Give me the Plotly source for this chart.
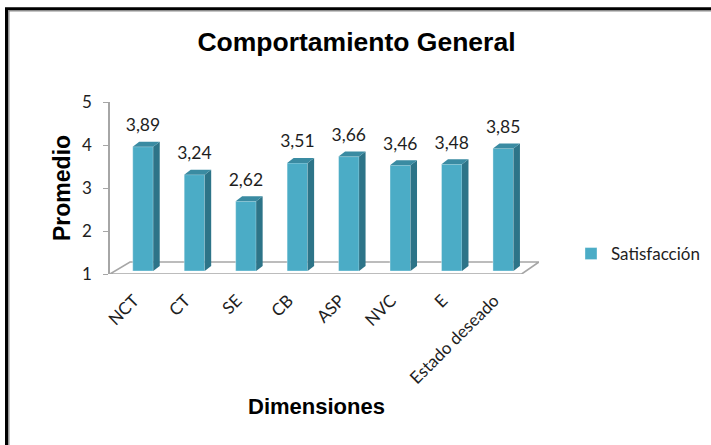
import plotly.graph_objects as go

# ---- data ----
categories = ["NCT", "CT", "SE", "CB", "ASP", "NVC", "E", "Estado deseado"]
values = [3.89, 3.24, 2.62, 3.51, 3.66, 3.46, 3.48, 3.85]
y_ticks = [1, 2, 3, 4, 5]
series_name = "Satisfacción"
title_text = "Comportamiento General"
x_title = "Dimensiones"
y_title = "Promedio"

# ---- geometry / style ----
W, H = 711, 445
PL, PR, PT, PB = 110, 539, 102, 274          # plot area in pixels
x_range = [-0.641, 7.696]
y_range = [1, 5]
px_x = (PR - PL) / (x_range[1] - x_range[0])
px_y = (PB - PT) / (y_range[1] - y_range[0])


def paper_x(px):
    return (px - PL) / (PR - PL)


def paper_y(py):
    return (PB - py) / (PB - PT)


bar_w = 20.5 / px_x
dx = 6.5 / px_x
dy = 5.0 / px_y
lift = 3.0 / px_y
label_gap = 20.0 / px_y

FRONT = "#4BACC6"
SIDE = "#2D7488"
TOP = "#3A8BA2"
AXIS_GRAY = "#A6A6A6"
TXT = "#1E1E1E"

idx = list(range(len(categories)))
labels = [f"{v:.2f}".replace(".", ",") for v in values]

fig = go.Figure()
fig.add_trace(go.Bar(
    x=idx, y=[v - y_range[0] for v in values], base=y_range[0] + lift,
    width=bar_w, name=series_name,
    marker=dict(color=FRONT, line=dict(color="rgba(255,255,255,0.6)", width=0.6)),
    hoverinfo="skip",
))
fig.add_trace(go.Scatter(
    x=idx, y=[v + lift + label_gap for v in values], mode="text",
    text=labels, textposition="middle center",
    textfont=dict(family="Lato", size=17.5, color=TXT),
    showlegend=False, cliponaxis=False, hoverinfo="skip",
))

shapes = []
# floor
n = len(categories)
fx0 = x_range[0]
fx1 = x_range[0] + n
bx0 = fx0 + 20.0 / px_x
bx1 = x_range[1]
by = y_range[0] + 12.0 / px_y
shapes.append(dict(
    type="path", xref="x", yref="y", layer="below",
    path=f"M {fx0},{y_range[0]} L {fx1},{y_range[0]} L {bx1},{by} L {bx0},{by} Z",
    fillcolor="white", line=dict(color=AXIS_GRAY, width=1.6),
))
# 3D faces of the bars
base = y_range[0] + lift
for i, v in zip(idx, values):
    top = v + lift
    x0, x1 = i - bar_w / 2, i + bar_w / 2
    shapes.append(dict(
        type="path", xref="x", yref="y", layer="above",
        path=f"M {x1},{base} L {x1},{top} L {x1 + dx},{top + dy} L {x1 + dx},{base + dy} Z",
        fillcolor=SIDE, line=dict(width=0),
    ))
    shapes.append(dict(
        type="path", xref="x", yref="y", layer="above",
        path=f"M {x0},{top} L {x1},{top} L {x1 + dx},{top + dy} L {x0 + dx},{top + dy} Z",
        fillcolor=TOP, line=dict(width=0),
    ))
# outer frame
shapes.append(dict(type="rect", xref="paper", yref="paper",
                   x0=paper_x(6.5), x1=paper_x(730), y0=paper_y(470), y1=paper_y(8.7),
                   line=dict(color="black", width=3), fillcolor="rgba(0,0,0,0)"))
shapes.append(dict(type="rect", xref="paper", yref="paper",
                   x0=paper_x(8.8), x1=paper_x(730), y0=paper_y(470), y1=paper_y(10.8),
                   line=dict(color="#8C8C8C", width=1.4), fillcolor="rgba(0,0,0,0)"))

annotations = [
    dict(text=f"<b>{y_title}</b>", xref="paper", yref="paper",
         x=paper_x(62), y=paper_y(188), textangle=-90, showarrow=False,
         xanchor="center", yanchor="middle",
         font=dict(family="Liberation Sans", size=23, color="black")),
    dict(text=f"<b>{x_title}</b>", xref="paper", yref="paper",
         x=paper_x(316), y=paper_y(406), showarrow=False,
         xanchor="center", yanchor="middle",
         font=dict(family="Liberation Sans", size=22, color="black")),
]

fig.update_layout(
    width=W, height=H,
    margin=dict(l=PL, r=W - PR, t=PT, b=H - PB, autoexpand=False),
    paper_bgcolor="white", plot_bgcolor="rgba(0,0,0,0)",
    title=dict(text=f"<b>{title_text}</b>", xref="paper", yref="container",
               x=paper_x(356.5), y=1 - 42 / H, xanchor="center", yanchor="middle",
               font=dict(family="Liberation Sans", size=26.5, color="black")),
    xaxis=dict(range=x_range, tickmode="array", tickvals=idx, ticktext=categories,
               tickangle=-45, showgrid=False, zeroline=False, showline=False,
               ticks="outside", ticklen=9, tickcolor="rgba(0,0,0,0)",
               ticklabelshift=-9,
               tickfont=dict(family="Lato", size=17, color=TXT)),
    yaxis=dict(range=y_range, tickmode="array", tickvals=y_ticks,
               showgrid=False, zeroline=False, showline=True, linecolor=AXIS_GRAY,
               linewidth=1.5, ticks="outside", ticklen=5, tickcolor=AXIS_GRAY,
               ticklabelstandoff=8,
               tickfont=dict(family="Lato", size=17, color=TXT)),
    legend=dict(x=paper_x(571), y=paper_y(254), xanchor="left", yanchor="middle",
                itemwidth=30, font=dict(family="Lato", size=17, color=TXT),
                bgcolor="rgba(0,0,0,0)"),
    showlegend=True,
    shapes=shapes, annotations=annotations,
)

fig.write_html("out.html")
